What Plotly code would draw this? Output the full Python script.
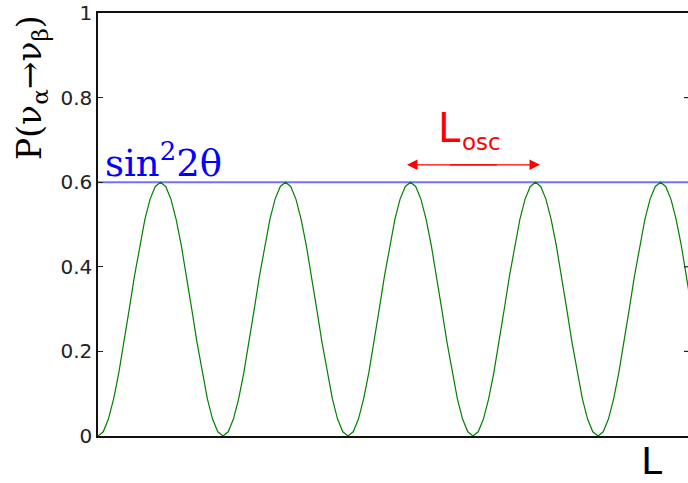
import plotly.graph_objects as go

period_samples = 24
p_values = [
    0.000, 0.010, 0.040, 0.088, 0.150, 0.222, 0.300, 0.378, 0.450, 0.512, 0.560, 0.590,
    0.600, 0.590, 0.560, 0.512, 0.450, 0.378, 0.300, 0.222, 0.150, 0.088, 0.040, 0.010,
    0.000, 0.010, 0.040, 0.088, 0.150, 0.222, 0.300, 0.378, 0.450, 0.512, 0.560, 0.590,
    0.600, 0.590, 0.560, 0.512, 0.450, 0.378, 0.300, 0.222, 0.150, 0.088, 0.040, 0.010,
    0.000, 0.010, 0.040, 0.088, 0.150, 0.222, 0.300, 0.378, 0.450, 0.512, 0.560, 0.590,
    0.600, 0.590, 0.560, 0.512, 0.450, 0.378, 0.300, 0.222, 0.150, 0.088, 0.040, 0.010,
    0.000, 0.010, 0.040, 0.088, 0.150, 0.222, 0.300, 0.378, 0.450, 0.512, 0.560, 0.590,
    0.600, 0.590, 0.560, 0.512, 0.450, 0.378, 0.300, 0.222, 0.150, 0.088, 0.040, 0.010,
    0.000, 0.010, 0.040, 0.088, 0.150, 0.222, 0.300, 0.378, 0.450, 0.512, 0.560, 0.590,
    0.600, 0.590, 0.560, 0.512, 0.450, 0.378, 0.300,
]
L_values = [i / period_samples for i in range(len(p_values))]

amplitude = 0.6          # sin^2 2θ
x_max = 4.72
y_tick_vals = [0, 0.2, 0.4, 0.6, 0.8, 1]
y_tick_text = ["0", "0.2", "0.4", "0.6", "0.8", "1"]
arrow_left, arrow_right, arrow_y = 2.472, 3.536, 0.641

fig = go.Figure()
fig.add_trace(go.Scatter(x=[0, x_max], y=[amplitude, amplitude], mode="lines",
                         line=dict(color="rgba(40,40,255,0.65)", width=2),
                         hoverinfo="skip", showlegend=False))
fig.add_trace(go.Scatter(x=L_values, y=p_values, mode="lines",
                         line=dict(color="#008000", width=1.2),
                         showlegend=False))

ann = []
# double-headed arrow (two overlapping arrows)
mid = (arrow_left + arrow_right) / 2
ann.append(dict(x=arrow_left, y=arrow_y, ax=mid + 0.2, ay=arrow_y, xref="x", yref="y",
                axref="x", ayref="y", text="", showarrow=True,
                arrowhead=2, arrowsize=1.5, arrowwidth=1.4, arrowcolor="#ff0000"))
ann.append(dict(x=arrow_right, y=arrow_y, ax=mid - 0.2, ay=arrow_y, xref="x", yref="y",
                axref="x", ayref="y", text="", showarrow=True,
                arrowhead=2, arrowsize=1.5, arrowwidth=1.4, arrowcolor="#ff0000"))
# L_osc label
ann.append(dict(x=(436 - 98) / 125, y=(436 - 128) / 423, xref="x", yref="y",
                text="L", showarrow=False, xanchor="left", yanchor="middle",
                font=dict(family="DejaVu Sans", size=40, color="#ff0000")))
ann.append(dict(x=(460 - 98) / 125, y=(436 - 142) / 423, xref="x", yref="y",
                text="osc", showarrow=False, xanchor="left", yanchor="middle",
                font=dict(family="DejaVu Sans", size=23, color="#ff0000")))
# sin^2 2θ label
ann.append(dict(x=(103 - 98) / 125, y=(436 - 160) / 423, xref="x", yref="y",
                text="sin<sup>2</sup>2θ", showarrow=False, xanchor="left", yanchor="middle",
                font=dict(family="DejaVu Serif", size=37, color="#0000ff")))
# y axis title
ann.append(dict(x=(31 - 98) / 590, y=(436 - 88) / 423, xref="paper", yref="paper",
                text="P(ν<sub>α</sub>→ν<sub>β</sub>)", showarrow=False, textangle=-90,
                xanchor="center", yanchor="middle",
                font=dict(family="DejaVu Serif", size=33, color="#000000")))
# x axis label
ann.append(dict(x=(651 - 98) / 590, y=-(461 - 436) / 423, xref="paper", yref="paper",
                text="L", showarrow=False, xanchor="center", yanchor="middle",
                font=dict(family="DejaVu Sans", size=38, color="#000000")))

shapes = []
for v in (0.2, 0.4, 0.8):
    shapes.append(dict(type="line", xref="paper", yref="y", x0=1 - 4 / 590, x1=1,
                       y0=v, y1=v, line=dict(color="#222222", width=1.2)))

fig.update_layout(
    width=688, height=483,
    margin=dict(l=98, r=0, t=13, b=47),
    paper_bgcolor="white", plot_bgcolor="white",
    annotations=ann, shapes=shapes,
    xaxis=dict(range=[0, x_max], showgrid=False, zeroline=False, showticklabels=False,
               ticks="", showline=True, linecolor="#111111", linewidth=1.5, mirror=True),
    yaxis=dict(range=[0, 1], showgrid=False, zeroline=False, tickvals=y_tick_vals,
               ticktext=y_tick_text, ticks="inside", ticklen=5, tickwidth=1.2,
               tickcolor="#222222", showline=True, linecolor="#111111", linewidth=1.5,
               tickfont=dict(family="DejaVu Sans", size=20, color="#222222")),
)

fig.write_html("out.html", config={"displayModeBar": False},
               post_script="document.body.style.margin='0';document.body.style.overflow='hidden';")
